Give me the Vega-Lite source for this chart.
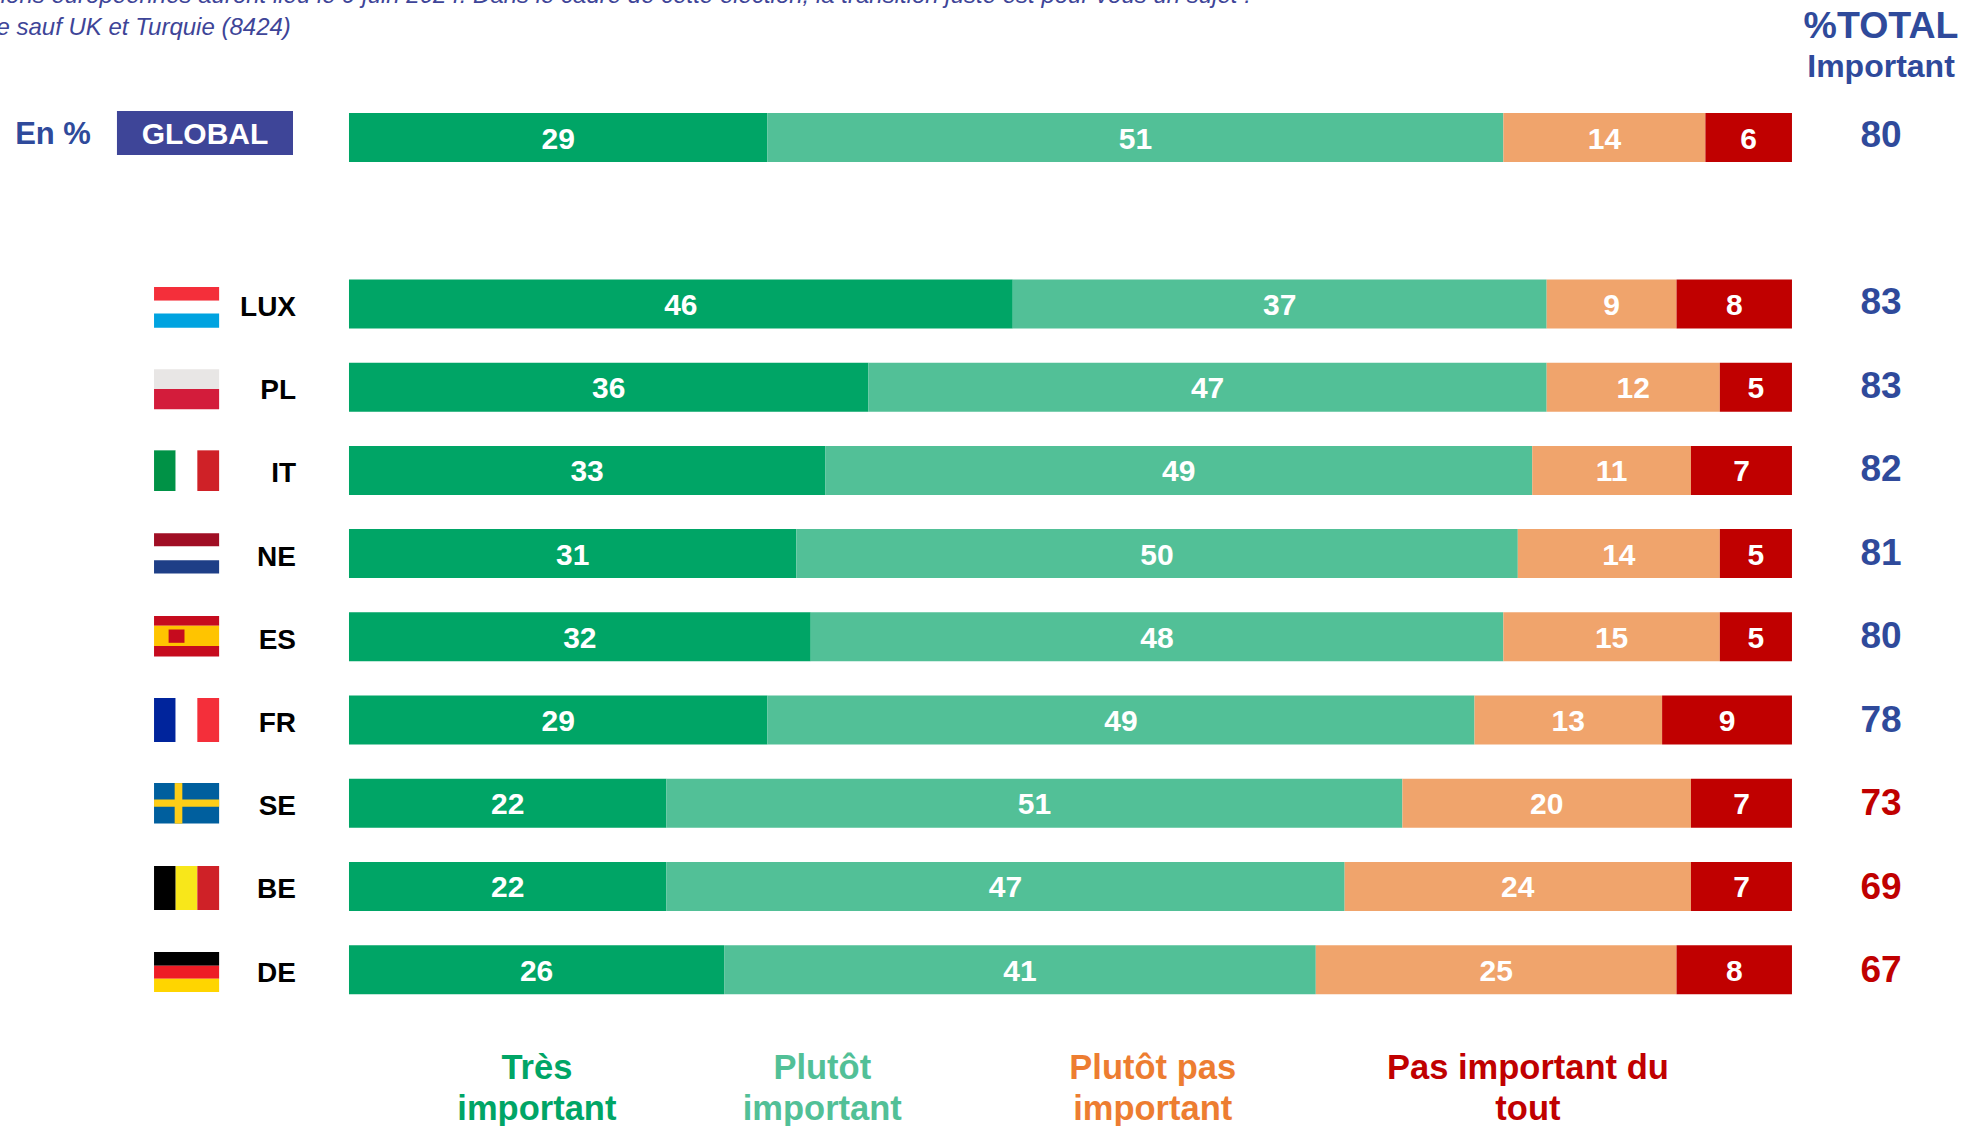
{
"$schema":"https://vega.github.io/schema/vega-lite/v6.json",
"width":1966,"height":1126,"padding":0,
"autosize":{"type":"none"},
"background":"white",
"config":{"view":{"stroke":null},"text":{"font":"Liberation Sans","fontWeight":"bold"}},
"datasets":{
"bars":[
{"pays":"GLOBAL","reponse":"Très important","k":1,"v":29},{"pays":"GLOBAL","reponse":"Plutôt important","k":2,"v":51},{"pays":"GLOBAL","reponse":"Plutôt pas important","k":3,"v":14},{"pays":"GLOBAL","reponse":"Pas important du tout","k":4,"v":6},
{"pays":"LUX","reponse":"Très important","k":1,"v":46},{"pays":"LUX","reponse":"Plutôt important","k":2,"v":37},{"pays":"LUX","reponse":"Plutôt pas important","k":3,"v":9},{"pays":"LUX","reponse":"Pas important du tout","k":4,"v":8},
{"pays":"PL","reponse":"Très important","k":1,"v":36},{"pays":"PL","reponse":"Plutôt important","k":2,"v":47},{"pays":"PL","reponse":"Plutôt pas important","k":3,"v":12},{"pays":"PL","reponse":"Pas important du tout","k":4,"v":5},
{"pays":"IT","reponse":"Très important","k":1,"v":33},{"pays":"IT","reponse":"Plutôt important","k":2,"v":49},{"pays":"IT","reponse":"Plutôt pas important","k":3,"v":11},{"pays":"IT","reponse":"Pas important du tout","k":4,"v":7},
{"pays":"NE","reponse":"Très important","k":1,"v":31},{"pays":"NE","reponse":"Plutôt important","k":2,"v":50},{"pays":"NE","reponse":"Plutôt pas important","k":3,"v":14},{"pays":"NE","reponse":"Pas important du tout","k":4,"v":5},
{"pays":"ES","reponse":"Très important","k":1,"v":32},{"pays":"ES","reponse":"Plutôt important","k":2,"v":48},{"pays":"ES","reponse":"Plutôt pas important","k":3,"v":15},{"pays":"ES","reponse":"Pas important du tout","k":4,"v":5},
{"pays":"FR","reponse":"Très important","k":1,"v":29},{"pays":"FR","reponse":"Plutôt important","k":2,"v":49},{"pays":"FR","reponse":"Plutôt pas important","k":3,"v":13},{"pays":"FR","reponse":"Pas important du tout","k":4,"v":9},
{"pays":"SE","reponse":"Très important","k":1,"v":22},{"pays":"SE","reponse":"Plutôt important","k":2,"v":51},{"pays":"SE","reponse":"Plutôt pas important","k":3,"v":20},{"pays":"SE","reponse":"Pas important du tout","k":4,"v":7},
{"pays":"BE","reponse":"Très important","k":1,"v":22},{"pays":"BE","reponse":"Plutôt important","k":2,"v":47},{"pays":"BE","reponse":"Plutôt pas important","k":3,"v":24},{"pays":"BE","reponse":"Pas important du tout","k":4,"v":7},
{"pays":"DE","reponse":"Très important","k":1,"v":26},{"pays":"DE","reponse":"Plutôt important","k":2,"v":41},{"pays":"DE","reponse":"Plutôt pas important","k":3,"v":25},{"pays":"DE","reponse":"Pas important du tout","k":4,"v":8}
],
"totaux":[
{"pays":"GLOBAL","total":80},{"pays":"LUX","total":83},{"pays":"PL","total":83},{"pays":"IT","total":82},{"pays":"NE","total":81},{"pays":"ES","total":80},{"pays":"FR","total":78},{"pays":"SE","total":73},{"pays":"BE","total":69},{"pays":"DE","total":67}
],
"legende":[
{"pays":"légende","reponse":"Très important","texte":"Très\nimportant","pos":13.02},
{"pays":"légende","reponse":"Plutôt important","texte":"Plutôt\nimportant","pos":32.8},
{"pays":"légende","reponse":"Plutôt pas important","texte":"Plutôt pas\nimportant","pos":55.7},
{"pays":"légende","reponse":"Pas important du tout","texte":"Pas important du\ntout","pos":81.7}
],
"drapeaux":[
{"c":"rouge clair","a":-13.51,"b":-9,"h":2.299,"l":2.464},{"c":"blanc","a":-13.51,"b":-9,"h":2.464,"l":2.617},{"c":"bleu ciel","a":-13.51,"b":-9,"h":2.617,"l":2.788},
{"c":"gris clair","a":-13.51,"b":-9,"h":3.287,"l":3.525},{"c":"rouge PL","a":-13.51,"b":-9,"h":3.525,"l":3.77},
{"c":"vert IT","a":-13.51,"b":-12.01,"h":4.264,"l":4.753},{"c":"blanc","a":-12.01,"b":-10.51,"h":4.264,"l":4.753},{"c":"rouge IT","a":-10.51,"b":-9,"h":4.264,"l":4.753},
{"c":"rouge NE","a":-13.51,"b":-9,"h":5.263,"l":5.422},{"c":"blanc","a":-13.51,"b":-9,"h":5.422,"l":5.587},{"c":"bleu NE","a":-13.51,"b":-9,"h":5.587,"l":5.745},
{"c":"rouge ES","a":-13.51,"b":-9,"h":6.257,"l":6.376},{"c":"jaune ES","a":-13.51,"b":-9,"h":6.376,"l":6.62},{"c":"rouge ES","a":-13.51,"b":-9,"h":6.62,"l":6.745},{"c":"rouge ES","a":-12.5,"b":-11.4,"h":6.42,"l":6.58},
{"c":"bleu FR","a":-13.51,"b":-12.01,"h":7.245,"l":7.773},{"c":"blanc","a":-12.01,"b":-10.51,"h":7.245,"l":7.773},{"c":"rouge clair","a":-10.51,"b":-9,"h":7.245,"l":7.773},
{"c":"bleu SE","a":-13.51,"b":-9,"h":8.268,"l":8.756},{"c":"jaune SE","a":-13.51,"b":-9,"h":8.467,"l":8.552},{"c":"jaune SE","a":-12.08,"b":-11.55,"h":8.268,"l":8.756},
{"c":"noir","a":-13.51,"b":-12.01,"h":9.267,"l":9.796},{"c":"jaune BE","a":-12.01,"b":-10.51,"h":9.267,"l":9.796},{"c":"rouge IT","a":-10.51,"b":-9,"h":9.267,"l":9.796},
{"c":"noir","a":-13.51,"b":-9,"h":10.302,"l":10.465},{"c":"rouge DE","a":-13.51,"b":-9,"h":10.465,"l":10.624},{"c":"jaune DE","a":-13.51,"b":-9,"h":10.624,"l":10.783}
]
},
"resolve":{"scale":{"y":"independent","color":"independent"}},
"encoding":{
"y":{"field":"pays","type":"nominal","axis":null,"scale":{"domain":["GLOBAL"," ","LUX","PL","IT","NE","ES","FR","SE","BE","DE","légende"],"range":[95.9,1094.5],"paddingInner":0.41,"paddingOuter":0.205}}
},
"layer":[
{"data":{"name":"bars"},"mark":{"type":"bar","height":49},
"encoding":{
"x":{"field":"v","type":"quantitative","stack":"zero","axis":null,"scale":{"domain":[-24.185,112.06],"nice":false,"zero":false}},
"order":{"field":"k","type":"ordinal"},
"color":{"field":"reponse","type":"nominal","legend":null,"scale":{"domain":["Très important","Plutôt important","Plutôt pas important","Pas important du tout"],"range":["#00A566","#52C097","#F0A46C","#C00000"]}}}},
{"data":{"name":"bars"},"mark":{"type":"text","color":"white","fontSize":30,"baseline":"middle","align":"center","yOffset":2},
"encoding":{
"x":{"field":"v","type":"quantitative","stack":"zero","bandPosition":0.5},
"order":{"field":"k","type":"ordinal"},
"text":{"field":"v","type":"quantitative"}}},
{"data":{"name":"totaux"},"mark":{"type":"text","fontSize":37,"baseline":"middle","align":"center","yOffset":1},
"encoding":{
"x":{"datum":106.17},
"y":{"field":"pays","type":"nominal","axis":null,"scale":{"domain":["GLOBAL"," ","LUX","PL","IT","NE","ES","FR","SE","BE","DE","légende"],"range":[93.65,1095.65],"paddingInner":0.41,"paddingOuter":0.205}},
"text":{"field":"total","type":"quantitative"},
"color":{"condition":{"test":"datum.total>=78","value":"#2F4A9B"},"value":"#C00000"}}},
{"data":{"name":"totaux"},"transform":[{"filter":"datum.pays!='GLOBAL'"}],"mark":{"type":"text","fontSize":28,"baseline":"middle","align":"right","color":"black","yOffset":4},
"encoding":{"x":{"datum":-3.67},"text":{"field":"pays"}}},
{"data":{"values":[{"pays":"GLOBAL","a":-16.08,"b":-3.88}]},"mark":{"type":"rect","color":"#3E4598","height":44,"yOffset":-4.5},
"encoding":{"x":{"field":"a","type":"quantitative"},"x2":{"field":"b"}}},
{"data":{"values":[{"pays":"GLOBAL","t":"GLOBAL"}]},"mark":{"type":"text","color":"white","fontSize":30,"baseline":"middle","align":"center","yOffset":-3},
"encoding":{"x":{"datum":-9.98},"text":{"field":"t"}}},
{"data":{"values":[{"pays":"GLOBAL","t":"En %"}]},"mark":{"type":"text","color":"#2F4A9B","fontSize":31,"baseline":"middle","align":"center","yOffset":-3},
"encoding":{"x":{"datum":-20.51},"text":{"field":"t"}}},
{"data":{"values":[{"pays":"GLOBAL","t":"%TOTAL"}]},"mark":{"type":"text","color":"#2F4A9B","fontSize":37.5,"baseline":"alphabetic","align":"center","yOffset":-100},
"encoding":{"x":{"datum":106.17},"text":{"field":"t"}}},
{"data":{"values":[{"pays":"GLOBAL","t":"Important"}]},"mark":{"type":"text","color":"#2F4A9B","fontSize":32,"baseline":"alphabetic","align":"center","yOffset":-60.5},
"encoding":{"x":{"datum":106.17},"text":{"field":"t"}}},
{"data":{"values":[{"pays":"GLOBAL","t":"Base : ensemble sauf UK et Turquie (8424)"}]},"mark":{"type":"text","color":"#3E4598","fontSize":24,"fontWeight":"normal","fontStyle":"italic","baseline":"alphabetic","align":"right","yOffset":-102.5},
"encoding":{"x":{"datum":-4.03},"text":{"field":"t"}}},
{"data":{"values":[{"pays":"GLOBAL","t":"Les prochaines élections européennes auront lieu le 9 juin 2024. Dans le cadre de cette élection, la transition juste est pour vous un sujet :"}]},"mark":{"type":"text","color":"#3E4598","fontSize":24,"fontWeight":"normal","fontStyle":"italic","baseline":"alphabetic","align":"right","yOffset":-134.5},
"encoding":{"x":{"datum":62.5},"text":{"field":"t"}}},
{"data":{"name":"legende"},"mark":{"type":"text","fontSize":34.5,"baseline":"top","align":"center","lineBreak":"\n","lineHeight":41,"yOffset":-1},
"encoding":{
"x":{"field":"pos","type":"quantitative"},
"text":{"field":"texte"},
"color":{"field":"reponse","type":"nominal","legend":null,"scale":{"domain":["Très important","Plutôt important","Plutôt pas important","Pas important du tout"],"range":["#00A566","#52C097","#ED7D31","#C00000"]}}}},
{"data":{"name":"drapeaux"},"mark":{"type":"rect"},
"encoding":{
"x":{"field":"a","type":"quantitative"},"x2":{"field":"b"},
"y":{"field":"h","type":"quantitative","axis":null,"scale":{"domain":[0,12],"range":[96,1093.2],"nice":false,"zero":false}},"y2":{"field":"l"},
"color":{"field":"c","type":"nominal","legend":null,"scale":{"domain":["rouge clair","blanc","bleu ciel","gris clair","rouge PL","vert IT","rouge IT","rouge NE","bleu NE","rouge ES","jaune ES","bleu FR","bleu SE","jaune SE","noir","jaune BE","rouge DE","jaune DE"],"range":["#F42F3A","#FFFFFF","#00A3E0","#E8E6E5","#D31C3B","#009246","#CF2127","#A00E24","#1E3F87","#C60B1E","#FFC400","#00249C","#005F9E","#FECD17","#000000","#F8E71A","#EE1C25","#FFD500"]}}}}
]
}
